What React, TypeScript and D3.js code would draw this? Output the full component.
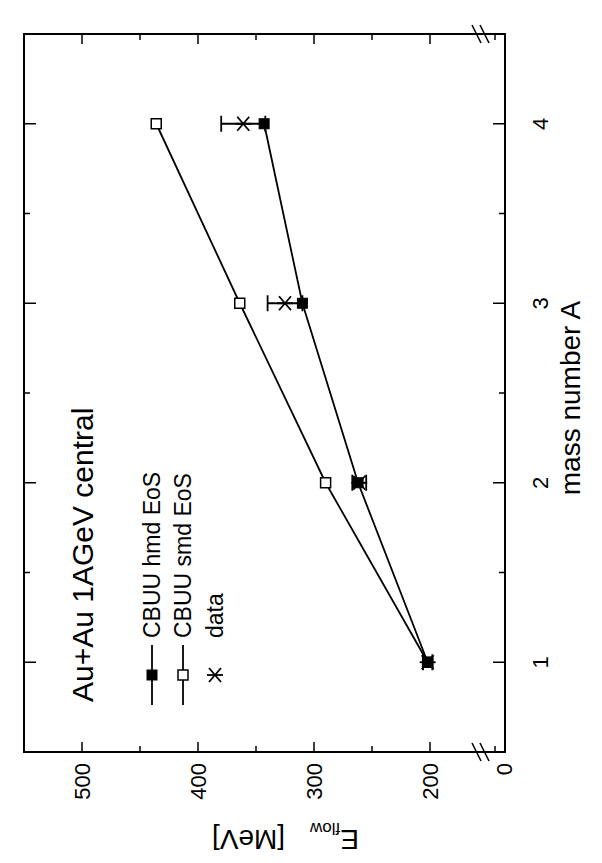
import React from "react";
import * as d3 from "d3";

// ---- data ----
const massNumbers = [1, 2, 3, 4];
const hmdEoS = [202, 262, 310, 343];
const smdEoS = [202, 290, 364, 436];
const dataE = [202, 261, 325, 361];
const dataErr = [4, 6, 15, 19];

const eMajorTicks = [200, 300, 400, 500];
const eMinorTicks = [250, 350, 450];
const aMajorTicks = [1, 2, 3, 4];
const aMinorTicks = [1.5, 2.5, 3.5];

const titleText = "Au+Au 1AGeV central";
const legendLabels = ["CBUU hmd EoS", "CBUU smd EoS", "data"];

const W = 602;
const H = 863;
const FONT = "'Liberation Sans', Arial, Helvetica, sans-serif";

// unrotated (landscape) frame
const L = 111, R = 829, T = 24, B = 505;

export default function App() {
  const x = d3.scaleLinear().domain([0.5, 4.5]).range([L, R]);
  const y = d3.scaleLinear().domain([150, 550]).range([488, T]);
  const line = d3.line<number>().x((_, i) => x(massNumbers[i])).y((d) => y(d));

  const star = (cx: number, cy: number, key: string) => (
    <g key={key} stroke="#000" strokeWidth={1.8}>
      <line x1={cx} y1={cy - 8} x2={cx} y2={cy + 8} />
      <line x1={cx - 7} y1={cy - 6} x2={cx + 7} y2={cy + 6} />
      <line x1={cx + 7} y1={cy - 6} x2={cx - 7} y2={cy + 6} />
    </g>
  );

  const sq = 10;
  const legendY = [152, 183, 215];
  const legendX = 188;

  return (
    <svg
      width={W}
      height={H}
      style={{ position: "absolute", left: 0, top: 0, background: "#fff" }}
      fontFamily={FONT}
    >
      <rect x={0} y={0} width={W} height={H} fill="#fff" />
      <g transform={`translate(0,${H}) rotate(-90)`}>
        {/* frame */}
        <rect x={L} y={T} width={R - L} height={B - T} fill="none" stroke="#000" strokeWidth={2} />

        {/* E axis ticks (left and right) */}
        {eMajorTicks.map((v) => (
          <g key={"em" + v} stroke="#000" strokeWidth={1.5}>
            <line x1={L} x2={L + 10} y1={y(v)} y2={y(v)} />
            <line x1={R} x2={R - 10} y1={y(v)} y2={y(v)} />
          </g>
        ))}
        {eMinorTicks.map((v) => (
          <g key={"en" + v} stroke="#000" strokeWidth={1.5}>
            <line x1={L} x2={L + 6} y1={y(v)} y2={y(v)} />
            <line x1={R} x2={R - 6} y1={y(v)} y2={y(v)} />
          </g>
        ))}
        <g stroke="#000" strokeWidth={1.5}>
          <line x1={L} x2={L + 6} y1={B - 10} y2={B - 10} />
          <line x1={R} x2={R - 6} y1={B - 10} y2={B - 10} />
        </g>
        {/* axis break marks */}
        {[L, R].map((cx) => (
          <g key={"br" + cx} stroke="#000" strokeWidth={1.5}>
            <line x1={cx + 9} y1={472} x2={cx - 9} y2={481} />
            <line x1={cx + 9} y1={480} x2={cx - 9} y2={489} />
          </g>
        ))}

        {/* A axis ticks (bottom and top) */}
        {aMajorTicks.map((a) => (
          <g key={"am" + a} stroke="#000" strokeWidth={1.5}>
            <line x1={x(a)} x2={x(a)} y1={B} y2={B - 12} />
            <line x1={x(a)} x2={x(a)} y1={T} y2={T + 12} />
          </g>
        ))}
        {aMinorTicks.map((a) => (
          <g key={"an" + a} stroke="#000" strokeWidth={1.5}>
            <line x1={x(a)} x2={x(a)} y1={B} y2={B - 6} />
            <line x1={x(a)} x2={x(a)} y1={T} y2={T + 6} />
          </g>
        ))}

        {/* tick labels */}
        {eMajorTicks.map((v) => (
          <text key={"el" + v} x={100} y={y(v)} dy="0.36em" textAnchor="end" fontSize={22}>
            {v}
          </text>
        ))}
        <text x={100} y={B - 1} dy="0.36em" textAnchor="end" fontSize={22}>0</text>
        {aMajorTicks.map((a) => (
          <text key={"al" + a} x={x(a)} y={548} textAnchor="middle" fontSize={22}>
            {a}
          </text>
        ))}

        {/* axis titles */}
        <text x={465} y={580} textAnchor="middle" fontSize={28}>mass number A</text>
        <text transform={`translate(33,359) rotate(-90)`} fontSize={28}>
          <tspan>E</tspan>
          <tspan fontSize={17} dy={7}>flow</tspan>
          <tspan dy={-7} dx={25}>[MeV]</tspan>
        </text>

        {/* title */}
        <text x={161} y={93} fontSize={30}>{titleText}</text>

        {/* curves */}
        <path d={line(smdEoS) || ""} fill="none" stroke="#000" strokeWidth={1.8} />
        <path d={line(hmdEoS) || ""} fill="none" stroke="#000" strokeWidth={1.8} />

        {/* data error bars and stars */}
        {dataE.map((e, i) => {
          const cx = x(massNumbers[i]);
          return (
            <g key={"eb" + i} stroke="#000" strokeWidth={1.8}>
              <line x1={cx} x2={cx} y1={y(e - dataErr[i])} y2={y(e + dataErr[i])} />
              <line x1={cx - 8} x2={cx + 8} y1={y(e - dataErr[i])} y2={y(e - dataErr[i])} />
              <line x1={cx - 8} x2={cx + 8} y1={y(e + dataErr[i])} y2={y(e + dataErr[i])} />
            </g>
          );
        })}
        {dataE.map((e, i) => star(x(massNumbers[i]), y(e), "st" + i))}

        {/* markers */}
        {smdEoS.map((e, i) => (
          <rect key={"so" + i} x={x(massNumbers[i]) - sq / 2} y={y(e) - sq / 2} width={sq} height={sq}
            fill="#fff" stroke="#000" strokeWidth={1.5} />
        ))}
        {hmdEoS.map((e, i) => (
          <rect key={"hf" + i} x={x(massNumbers[i]) - sq / 2} y={y(e) - sq / 2} width={sq} height={sq}
            fill="#000" stroke="#000" strokeWidth={1} />
        ))}

        {/* legend */}
        <g stroke="#000" strokeWidth={1.8}>
          <line x1={legendX - 30} x2={legendX + 30} y1={legendY[0]} y2={legendY[0]} />
          <line x1={legendX - 30} x2={legendX + 30} y1={legendY[1]} y2={legendY[1]} />
        </g>
        <rect x={legendX - sq / 2} y={legendY[0] - sq / 2} width={sq} height={sq} fill="#000" stroke="#000" />
        <rect x={legendX - sq / 2} y={legendY[1] - sq / 2} width={sq} height={sq} fill="#fff" stroke="#000" strokeWidth={1.5} />
        {star(legendX, legendY[2], "lst")}
        {legendLabels.map((t, i) => (
          <text key={"lg" + i} x={legendX + 37} y={legendY[i]} dy="0.36em" fontSize={23}>
            {t}
          </text>
        ))}
      </g>
    </svg>
  );
}
